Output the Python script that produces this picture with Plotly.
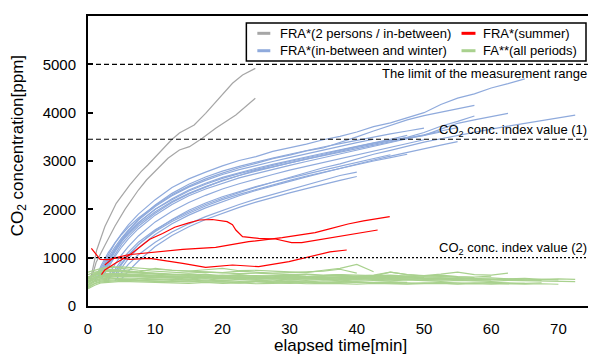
import plotly.graph_objects as go

# ---------------- data ----------------
X_TICKS = [0, 10, 20, 30, 40, 50, 60, 70]
Y_TICKS = [0, 1000, 2000, 3000, 4000, 5000, 6000]
LIMIT = 5000
INDEX1 = 3450
INDEX2 = 1000

LEGEND_LABELS = ["FRA*(2 persons / in-between)", "FRA*(summer)",
                 "FRA*(in-between and winter)", "FA**(all periods)"]
COLORS = {"gray": "#A6A6A6", "blue": "#8FAADC", "red": "#FF0000", "green": "#A9D18E"}

# FRA* 2 persons / in-between (gray)
GRAY_T = [
    [0.3, 0.8, 1.3, 2.5, 4.2, 6.2, 7.9, 8.9, 10.6, 12.4, 13.6, 15.8, 17.5, 19.5, 21.5, 23.0, 24.9],
    [0.5, 1.2, 2.5, 4.0, 5.5, 7.5, 8.7, 10.2, 11.9, 13.6, 15.1, 17.0, 19.0, 22.0, 24.9],
]
GRAY_Y = [
    [500, 800, 1159, 1641, 2125, 2503, 2779, 2917, 3159, 3435, 3579, 3745, 3987, 4300, 4608, 4780, 4917],
    [550, 900, 1250, 1650, 2000, 2400, 2607, 2814, 3056, 3228, 3296, 3470, 3677, 3952, 4297],
]

# FRA* in-between and winter (blue) on a common time grid
BLUE_T = [0.5, 1, 1.5, 2, 3, 4, 5, 6, 7.5, 10, 12.5, 15, 17.5, 20, 22.5, 25, 27.5, 30,
          32.5, 35, 37.5, 40, 42.5, 45, 47.5, 50, 52.5, 55, 57.5, 60, 62.5, 65, 67.5, 70, 72.5]
BLUE_Y = [
    [None]*2 + [650, 800, 1050, 1300, 1500, 1680, 1900, 2200, 2450, 2630, 2770, 2900, 3010, 3090, 3200,
                3270, 3350, 3440, 3510, 3600, 3710, 3790, 3890, 4000, 4170, 4300, 4390, 4510, 4600, 4700],
    [None]*1 + [600, 700, 850, 1100, 1300, 1480, 1630, 1820, 2080, 2300, 2480, 2630, 2750, 2860, 2950,
                3050, 3120, 3210, 3270, 3380, 3500, 3620, 3740, 3850, 3940, 4010, 4080, 4150],
    [None]*3 + [620, 850, 1080, 1280, 1440, 1650, 1920, 2140, 2320, 2460, 2600, 2700, 2810, 2880, 2960,
                3050, 3120, 3200, 3280, 3350, 3420, 3490, 3590, 3720, 3820, 3930],
    [None]*2 + [580, 700, 950, 1180, 1370, 1530, 1730, 2000, 2200, 2380, 2520, 2640, 2740, 2830, 2910,
                2990, 3060, 3140, 3220, 3300, 3370, 3430, 3480, 3530, 3660, 3780, 3850, 3920, 3985],
    [None]*4 + [560, 760, 950, 1110, 1320, 1580, 1780, 1950, 2100, 2230, 2350, 2460, 2560, 2660, 2760,
                2860, 2940, 3040, 3140, 3220, 3310, 3390, 3460, 3530, 3600, 3660, 3720, 3780, 3840, 3900, 3950],
    [None]*5 + [520, 700, 860, 1060, 1320, 1530, 1700, 1850, 1980, 2100, 2210, 2310, 2400, 2500, 2600,
                2700, 2770],
    [None]*3 + [560, 800, 1020, 1220, 1390, 1600, 1880, 2100, 2280, 2420, 2540, 2650, 2740, 2830, 2910,
                2990, 3070, 3150, 3230, 3310, 3390, 3460, 3530, 3600],
    [None]*4 + [620, 860, 1060, 1230, 1450, 1740, 1960, 2140, 2290, 2420, 2530, 2630, 2720, 2810, 2890,
                2970, 3050, 3130, 3210, 3290, 3360, 3440],
    [None]*3 + [600, 880, 1120, 1330, 1500, 1720, 2000, 2220, 2400, 2540, 2660, 2760, 2850, 2930, 3010,
                3090, 3160, 3230, 3300, 3380, 3450, 3530],
    [None]*5 + [600, 800, 980, 1200, 1480, 1700, 1880, 2030, 2160, 2280, 2390, 2490, 2580, 2670, 2760,
                2850, 2940, 3020, 3100, 3180, 3260, 3330, 3400],
    [None]*2 + [620, 760, 1000, 1220, 1410, 1570, 1780, 2060, 2280, 2460, 2600, 2720, 2820, 2910, 2990,
                3070, 3150, 3230, 3300, 3380, 3450],
    [None]*4 + [540, 720, 900, 1060, 1270, 1540, 1750, 1920, 2070, 2200, 2310, 2410, 2510, 2600, 2690,
                2770, 2850, 2930, 3000, 3070, 3140],
    [None]*6 + [560, 720, 930, 1230, 1460, 1640, 1790, 1920, 2040, 2150, 2250, 2340, 2430, 2520, 2600, 2680],
    [None]*3 + [650, 920, 1170, 1380, 1560, 1790, 2090, 2330, 2520, 2670, 2790, 2890, 2980, 3060, 3140,
                3220, 3290, 3360, 3430, 3500, 3560, 3620, 3680],
    [None]*1 + [520, 620, 740, 960, 1160, 1340, 1490, 1690, 1950, 2160, 2330, 2470, 2590, 2700, 2790,
                2880, 2960, 3040, 3110, 3190, 3260, 3330, 3400, 3470, 3540, 3620, 3690],
    [None]*5 + [640, 860, 1040, 1270, 1560, 1790, 1980, 2130, 2260, 2370, 2470, 2560, 2650, 2730, 2810,
                2890, 2970, 3050, 3130],
]

# FRA* summer (red)
RED_T = [
    [2.0, 2.5, 4.0, 6.2, 8.0, 9.2, 11.1, 12.9, 15.0, 16.6, 18.5, 20.7, 21.5, 22.0, 23.0, 25.4, 27.9,
     30.3, 31.8, 34.8, 38.7, 41.0, 43.1],
    [2.5, 3.7, 6.0, 9.2, 14.1, 19.0, 23.9, 28.9, 33.8, 35.8, 38.7, 41.0, 44.9],
    [0.5, 1.3, 1.8, 3.0, 4.5, 6.2, 9.2, 14.1, 17.5, 21.5, 25.4, 29.9, 33.8, 36.0, 38.5],
]
RED_Y = [
    [650, 745, 880, 1055, 1250, 1380, 1500, 1630, 1720, 1779, 1790, 1745, 1680, 1572, 1434, 1400, 1386,
     1310, 1310, 1379, 1469, 1530, 1572],
    [850, 986, 1060, 1103, 1172, 1214, 1331, 1414, 1517, 1590, 1697, 1760, 1848],
    [1193, 1050, 966, 960, 1000, 966, 986, 883, 800, 848, 814, 917, 1055, 1120, 1159],
]

# FA** all periods (green) on a common time grid
GREEN_T = [0, 1, 2, 3.5, 5, 7.5, 10, 12.5, 15, 17.5, 20, 22.5, 25, 27.5, 30, 32.5, 35, 37.5,
           40, 42.5, 45, 47.5, 50, 52.5, 55, 57.5, 60, 62.5, 65, 67.5, 70, 72.5]
GREEN_Y = [
    [480, 560, 600, 620, 640, 610, 600, 590, 610, 580, 600, 570, 590, 560, 580, 570, 560, 590, 570, 560,
     580, 600, 570, 560, 590, 570, 580, 560, 570, 550, 560, 550],
    [420, 500, 540, 560, 580, 570, 560, 550, 540, 560, 530, 550, 540, 520, 540, 530, 550, 520, 540, 530,
     520, 540, 530, 510, 530, 520, 510, 530, 520, 510, 500, 505],
    [380, 460, 500, 520, 530, 520, 510, 500, 520, 490, 500, 480, 500, 490, 470, 490, 480, 470, 490, 480,
     470, 460, 480, 470, 460, 480, 470, 460, 470],
    [560, 680, 760, 800, 810, 780, 760, 740, 720, 750, 780, 730, 740, 720, 700, 690, 740, 780, 860, 710],
    [600, 650, 700, 720, 700, 680, 660, 640, 650, 620, 640, 610, 630, 620, 600, 610, 630, 640, 600, 620,
     700, 650, 620, 640, 610, 600, 620],
    [500, 580, 620, 640, 660, 640, 620, 610, 600, 620, 590, 600, 580, 590, 600, 580, 570, 590, 580, 600,
     580, 590, 570, 580, 570, 560],
    [700, 740, 780, 820, 780, 740, 720, 700, 680, 700, 690, 670, 680, 660, 650, 660, 640, 650, 640, 630,
     640, 620, 630, 620, 610],
    [450, 520, 560, 580, 560, 540, 550, 530, 540, 520, 530, 510, 520, 500, 510, 500, 520, 510, 500, 490,
     500, 490],
    [520, 600, 640, 660, 650, 630, 620, 600, 590, 610, 580, 600, 590, 570, 580, 560, 580, 570, 560, 580,
     570, 560, 570, 580, 560, 570, 550, 560, 540, 550, 540],
    [480, 560, 600, 620, 630, 620, 600, 610, 590, 600, 580, 590, 570, 590, 600, 580, 590, 600, 620, 640,
     700, 650, 630, 660, 700, 650, 640, 680],
    [650, 700, 720, 760, 740, 700, 680, 660, 640, 660, 620, 640, 620, 600, 620, 610, 630, 650, 600, 620,
     610, 600, 590],
    [400, 470, 520, 540, 550, 530, 520, 510, 500, 520, 500, 490, 510, 500, 490, 500, 480, 490, 500, 480,
     490, 480, 470, 490, 480, 470, 490, 480, 470, 480],
    [550, 620, 700, 760, 740, 700, 780, 740, 720, 700, 690, 720, 700, 680, 690, 700, 720, 760, 680],
    [600, 640, 660, 680, 670, 650, 640, 620, 630, 610, 620, 600, 610, 590, 600, 590, 580, 600, 590, 580,
     590, 600, 580, 570],
    [440, 530, 580, 600, 620, 600, 590, 570, 560, 580, 560, 570, 550, 560, 540, 560, 550, 540, 560, 550,
     540, 550, 530, 540, 550, 530, 540],
    [360, 430, 480, 500, 510, 500, 490, 480, 470, 490, 470, 480, 460, 470, 480, 460, 470, 460, 450, 470,
     460, 450, 460, 470, 450, 460, 450, 460, 450, 460, 450],
    [580, 660, 720, 740, 720, 690, 670, 650, 660, 640, 630, 650, 620, 630, 640, 620, 610, 630, 620, 600,
     610, 620, 600, 610, 600, 590],
    [520, 590, 630, 650, 640, 610, 590, 600, 580, 590, 570, 580, 560, 570, 560, 580, 570, 550, 560, 570,
     550, 560, 550, 540, 560, 550, 540, 550, 540, 530],
]

# ---------------- figure ----------------
FONT = "Liberation Sans, Arial, sans-serif"
fig = go.Figure()

def add_line(xs, ys, color):
    fig.add_trace(go.Scatter(x=xs[:len(ys)], y=ys, mode="lines",
                             line=dict(color=color, width=1.2),
                             hoverinfo="skip", showlegend=False))

for ys in BLUE_Y:
    add_line(BLUE_T, ys, COLORS["blue"])
for xs, ys in zip(GRAY_T, GRAY_Y):
    add_line(xs, ys, COLORS["gray"])
for ys in GREEN_Y:
    add_line(GREEN_T, ys, COLORS["green"])
for xs, ys in zip(RED_T, RED_Y):
    add_line(xs, ys, COLORS["red"])

# reference lines
for val, dash in [(LIMIT, "5px,3px"), (INDEX1, "5px,3px"), (INDEX2, "2px,2px")]:
    fig.add_shape(type="line", xref="paper", yref="y", x0=0, x1=1, y0=val, y1=val,
                  line=dict(color="black", width=1.2, dash=dash), layer="above")

ann_font = dict(family=FONT, size=13, color="black")
fig.add_annotation(x=0.994, xref="paper", y=LIMIT, yref="y", yshift=-9, xanchor="right",
                   yanchor="middle", text="The limit of the measurement range",
                   showarrow=False, font=ann_font)
fig.add_annotation(x=0.994, xref="paper", y=INDEX1, yref="y", yshift=9, xanchor="right",
                   yanchor="middle", text="CO<sub>2</sub> conc. index value (1)",
                   showarrow=False, font=ann_font)
fig.add_annotation(x=0.994, xref="paper", y=INDEX2, yref="y", yshift=9, xanchor="right",
                   yanchor="middle", text="CO<sub>2</sub> conc. index value (2)",
                   showarrow=False, font=ann_font)

# manual legend
fig.add_shape(type="rect", xref="paper", yref="paper", x0=0.3142, x1=0.9881, y0=0.8448, y1=0.9759,
              line=dict(color="black", width=1.5), fillcolor="white", layer="above")
leg_items = [(LEGEND_LABELS[0], COLORS["gray"], 0.336, 0.3617, 0.3775, 0.9403),
             (LEGEND_LABELS[1], COLORS["red"], 0.7411, 0.7688, 0.7806, 0.9403),
             (LEGEND_LABELS[2], COLORS["blue"], 0.336, 0.3617, 0.3775, 0.8803),
             (LEGEND_LABELS[3], COLORS["green"], 0.7411, 0.7688, 0.7806, 0.8803)]
for label, col, sx0, sx1, tx, ty in leg_items:
    fig.add_shape(type="line", xref="paper", yref="paper", x0=sx0, x1=sx1, y0=ty, y1=ty,
                  line=dict(color=col, width=3), layer="above")
    fig.add_annotation(x=tx, xref="paper", y=ty, yref="paper", xanchor="left", yanchor="middle",
                       text=label, showarrow=False, font=ann_font)

# axis titles
fig.add_annotation(x=0.5, xref="paper", y=-0.135, yref="paper", xanchor="center", yanchor="middle",
                   text="elapsed time[min]", showarrow=False,
                   font=dict(family=FONT, size=17, color="black"))
fig.add_annotation(x=-0.138, xref="paper", y=0.552, yref="paper", xanchor="center", yanchor="middle",
                   text="CO<sub>2</sub> concentration[ppm]", textangle=-90, showarrow=False,
                   font=dict(family=FONT, size=17, color="black"))

# page body has an 8px margin, so the figure is 8px smaller and margins shifted accordingly
fig.update_layout(
    width=588, height=350,
    margin=dict(l=80, r=2, t=8, b=52),
    paper_bgcolor="white", plot_bgcolor="white",
    showlegend=False,
    font=dict(family=FONT, color="black"),
    xaxis=dict(range=[0, 75], tickvals=X_TICKS, showline=True, linecolor="black", linewidth=2,
               mirror=True, ticks="", showgrid=False, zeroline=False,
               tickfont=dict(family=FONT, size=15, color="black"), ticklabelstandoff=8),
    yaxis=dict(range=[0, 6000], tickvals=Y_TICKS, showline=True, linecolor="black", linewidth=2,
               mirror=True, ticks="inside", ticklen=5, tickcolor="black", tickwidth=1.5,
               showgrid=False, zeroline=False,
               tickfont=dict(family=FONT, size=15, color="black"), ticklabelstandoff=7),
)

fig.write_html("out.html")
